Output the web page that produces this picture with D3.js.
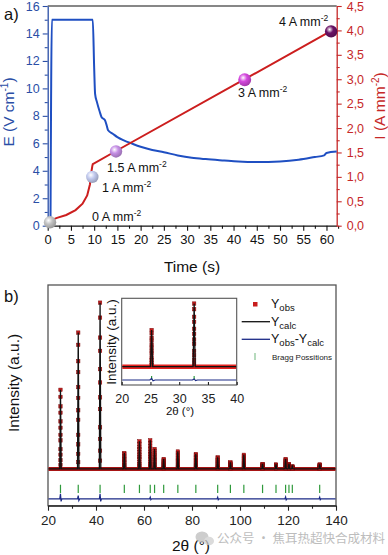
<!DOCTYPE html>
<html><head><meta charset="utf-8">
<script src="https://cdn.jsdelivr.net/npm/d3@7"></script>
<style>body{margin:0;background:#fff} svg{display:block;font-family:"Liberation Sans",Arial,sans-serif}</style>
</head><body><svg id="c" width="388" height="555"></svg>
<script>
// ---------- Panel a data ----------
const timeE = [0.6, 0.9, 9.7, 10.0, 10.2, 10.6, 11.2, 11.6, 12.3, 12.7, 13.0, 14, 15, 16.5, 18, 20, 22.5, 25, 28, 31, 34, 38, 41, 45, 50, 54, 57.5, 59.5, 60, 62.2];
const valE  = [0, 15, 15, 11.5, 9.6, 9.0, 8.3, 7.9, 7.7, 7.3, 6.95, 6.7, 6.45, 6.2, 6.0, 5.75, 5.52, 5.35, 5.12, 4.95, 4.85, 4.75, 4.68, 4.64, 4.68, 4.8, 5.0, 5.12, 5.3, 5.4];
const timeI = [0.9, 2, 4, 6, 7.5, 8.5, 9.1, 9.4, 9.6, 9.7, 14.7, 42.4, 61.0];
const valI  = [0.12, 0.16, 0.22, 0.32, 0.45, 0.62, 0.85, 1.1, 1.22, 1.26, 1.53, 3.0, 3.99];
const markerT = [0.5, 9.6, 14.7, 42.4, 61.0];
const markerI = [0.07, 1.0, 1.52, 2.99, 3.98];
const markerText = ["0 A mm", "1 A mm", "1.5 A mm", "3 A mm", "4 A mm"];
const markerColors = ["#c4c4c4", "#c3cbef", "#c690e6", "#d448de", "#6a1366"];
const eTicks = [0, 2, 4, 6, 8, 10, 12, 14, 16];
const iTicks = [0, 0.5, 1, 1.5, 2, 2.5, 3, 3.5, 4, 4.5];
const iTickLabels = ["0,0", "0,5", "1,0", "1,5", "2,0", "2,5", "3,0", "3,5", "4,0", "4,5"];
const timeTicks = [0, 5, 10, 15, 20, 25, 30, 35, 40, 45, 50, 55, 60];

// ---------- Panel b data ----------
const peakPos    = [25.2, 32.6, 41.7, 51.8, 58.1, 62.6, 64.4, 68.2, 74.1, 81.6, 90.7, 96.0, 101.6, 109.4, 115.0, 119.0, 120.4, 121.8, 133.2];
const peakHeight = [47.6, 82, 100, 9.6, 16.6, 17.2, 12, 6, 10.5, 9, 7, 4, 8.5, 3, 2.7, 6, 3, 1.5, 2.7];
const braggPos   = [25.2, 32.6, 41.7, 51.8, 58.1, 62.6, 64.4, 68.2, 74.1, 81.6, 90.7, 96.0, 101.6, 109.4, 115.0, 119.0, 120.4, 121.8, 133.2];
const obsLevels  = [1, 0.91, 0.79, 0.71, 0.6, 0.52, 0.43, 0.36, 0.25, 0.18, 0.11, 0.05];
const diffPos = [25.2, 32.6, 41.7, 62.6, 90.7, 119.0, 133.2];
const diffAmp = [3, 2, 3, 1, 1, 1.2, 1];
const twoThetaTicks = [20, 40, 60, 80, 100, 120, 140];
const insetTicks = [20, 25, 30, 35, 40];

const svg = d3.select("#c");
const defs = svg.append("defs");

// ================= PANEL A =================
const xT = d3.scaleLinear([0, 62.2], [47.7, 336.7]);
const yE = d3.scaleLinear([0, 16], [225.7, 6]);
const yI = d3.scaleLinear([0, 4.5], [225.7, 6]);
const blue = "#2a4ea6", red = "#c62828";

svg.append("line").attr("x1", xT(0)).attr("x2", xT(62.2)).attr("y1", 6).attr("y2", 6).attr("stroke", "#111").attr("stroke-width", 1.2);

function styleAxis(g, color, fs) {
  g.selectAll("path").attr("stroke", color).attr("stroke-width", 1.3);
  g.selectAll("line").attr("stroke", color).attr("stroke-width", 1.1);
  g.selectAll("text").attr("fill", color).attr("font-size", fs).attr("font-family", "Liberation Sans, Arial, sans-serif");
}
const gx = svg.append("g").attr("transform", `translate(0,${yE(0)})`)
  .call(d3.axisBottom(xT).tickValues(timeTicks).tickSize(5).tickSizeOuter(0).tickPadding(4));
styleAxis(gx, "#111", 13);
const gxm = svg.append("g").attr("transform", `translate(0,${yE(0)})`)
  .call(d3.axisBottom(xT).tickValues(timeTicks.map(d => d + 2.5)).tickSize(3).tickFormat(""));
gxm.select(".domain").remove(); styleAxis(gxm, "#111", 13);

const gl = svg.append("g").attr("transform", `translate(${xT(0)},0)`)
  .call(d3.axisLeft(yE).tickValues(eTicks).tickSize(5).tickSizeOuter(0).tickPadding(3));
styleAxis(gl, blue, 12.5);
const glm = svg.append("g").attr("transform", `translate(${xT(0)},0)`)
  .call(d3.axisLeft(yE).tickValues(eTicks.slice(0, -1).map(d => d + 1)).tickSize(3).tickFormat(""));
glm.select(".domain").remove(); styleAxis(glm, blue, 12);

const gr = svg.append("g").attr("transform", `translate(${xT(62.2)},0)`)
  .call(d3.axisRight(yI).tickValues(iTicks).tickSize(5).tickSizeOuter(0).tickPadding(5).tickFormat((d, i) => iTickLabels[i]));
styleAxis(gr, red, 12.5);
const grm = svg.append("g").attr("transform", `translate(${xT(62.2)},0)`)
  .call(d3.axisRight(yI).tickValues(iTicks.slice(0, -1).map(d => d + 0.25)).tickSize(3).tickFormat(""));
grm.select(".domain").remove(); styleAxis(grm, red, 12);

const lineE = d3.line().x((d, i) => xT(timeE[i])).y(d => yE(d)).curve(d3.curveMonotoneX);
svg.append("path").attr("d", lineE(valE)).attr("fill", "none").attr("stroke", "#1f4fc2").attr("stroke-width", 2);
const lineI = d3.line().x((d, i) => xT(timeI[i])).y(d => yI(d));
svg.append("path").attr("d", lineI(valI)).attr("fill", "none").attr("stroke", "#cc1e1e").attr("stroke-width", 2);

markerColors.forEach((c, i) => {
  const g = defs.append("radialGradient").attr("id", "mg" + i).attr("cx", "38%").attr("cy", "35%").attr("r", "65%");
  g.append("stop").attr("offset", "0%").attr("stop-color", "#ffffff");
  g.append("stop").attr("offset", "45%").attr("stop-color", c);
  g.append("stop").attr("offset", "100%").attr("stop-color", d3.color(c).darker(0.7));
});
svg.selectAll(".mk").data(markerT).join("circle")
  .attr("cx", d => xT(d)).attr("cy", (d, i) => yI(markerI[i])).attr("r", (d, i) => i === 3 ? 6.5 : 6.2)
  .attr("fill", (d, i) => `url(#mg${i})`);

const labelPos = [[92, 221], [102, 192], [107, 172], [238, 97], [279, 26]];
markerText.forEach((t, i) => {
  const tx = svg.append("text").attr("x", labelPos[i][0]).attr("y", labelPos[i][1]).attr("font-size", 12.5).attr("fill", "#111");
  tx.append("tspan").text(t);
  tx.append("tspan").attr("dy", -5).attr("font-size", 8.5).text("-2");
});

svg.append("text").attr("x", 4).attr("y", 20).attr("font-size", 16.5).attr("fill", "#111").text("a)");
const et = svg.append("text").attr("transform", "translate(14,112) rotate(-90)").attr("text-anchor", "middle").attr("font-size", 15.5).attr("fill", blue);
et.append("tspan").text("E (V cm"); et.append("tspan").attr("dy", -6).attr("font-size", 10).text("-1"); et.append("tspan").attr("dy", 6).text(")");
const it = svg.append("text").attr("transform", "translate(385,106) rotate(-90)").attr("text-anchor", "middle").attr("font-size", 15.5).attr("fill", red);
it.append("tspan").text("I (A mm"); it.append("tspan").attr("dy", -6).attr("font-size", 10).text("-2"); it.append("tspan").attr("dy", 6).text(")");
svg.append("text").attr("x", 192).attr("y", 272).attr("text-anchor", "middle").attr("font-size", 15.5).attr("fill", "#111").text("Time (s)");

// ================= PANEL B =================
const x2 = d3.scaleLinear([20, 140], [48, 336]);
const y2 = d3.scaleLinear([-22.1, 110.6], [505.7, 285]);
const frameC = "#555";
svg.append("rect").attr("x", 48).attr("y", 285).attr("width", 288).attr("height", 220.7).attr("fill", "none").attr("stroke", frameC).attr("stroke-width", 1.3);

const gb = svg.append("g").attr("transform", `translate(0,505.7)`)
  .call(d3.axisBottom(x2).tickValues(twoThetaTicks).tickSize(5).tickSizeOuter(0).tickPadding(5));
styleAxis(gb, "#222", 13.5);
const gbm = svg.append("g").attr("transform", `translate(0,505.7)`)
  .call(d3.axisBottom(x2).tickValues(twoThetaTicks.slice(0, -1).map(d => d + 10)).tickSize(3).tickFormat(""));
gbm.select(".domain").remove(); styleAxis(gbm, "#222", 13);

function calcPoints(lo, hi, delta) {
  const pts = [[lo, 0]];
  peakPos.forEach((p, i) => { pts.push([p - delta, 0], [p, peakHeight[i]], [p + delta, 0]); });
  pts.push([hi, 0]);
  return pts;
}
function diffPoints(lo, hi, base, scale) {
  const pts = [[lo, base]];
  diffPos.forEach((p, i) => { pts.push([p - 0.3, base], [p, base + diffAmp[i] * scale], [p + 0.25, base - diffAmp[i] * scale * 0.5], [p + 0.6, base]); });
  pts.push([hi, base]);
  return pts;
}

function drawXRD(g, xs, ys, lo, hi, opt) {
  g.append("line").attr("x1", xs(lo)).attr("x2", xs(hi)).attr("y1", ys(0)).attr("y2", ys(0))
    .attr("stroke", opt.bandColor).attr("stroke-width", opt.bandWidth);
  peakPos.forEach((p, i) => {
    if (p < lo || p > hi) return;
    obsLevels.forEach(l => {
      g.append("rect").attr("x", xs(p) - opt.sq / 2).attr("y", ys(peakHeight[i] * l) - opt.sq / 2)
        .attr("width", opt.sq).attr("height", opt.sq).attr("fill", "#c81d1d").attr("stroke", "#7d0a0a").attr("stroke-width", 0.5);
    });
  });
  const lc = d3.line().x(d => xs(d[0])).y(d => ys(d[1]));
  g.append("path").attr("d", lc(calcPoints(lo, hi, opt.delta).filter(d => d[0] >= lo && d[0] <= hi)))
    .attr("fill", "none").attr("stroke", "#111").attr("stroke-width", 1.3);
  braggPos.filter(p => p >= lo && p <= hi).forEach(p => {
    g.append("line").attr("x1", xs(p)).attr("x2", xs(p)).attr("y1", ys(opt.bragg[0])).attr("y2", ys(opt.bragg[1]))
      .attr("stroke", "#2f9a3c").attr("stroke-width", 1.2);
  });
  g.append("path").attr("d", lc(diffPoints(lo, hi, opt.diffBase, opt.diffScale).filter(d => d[0] >= lo && d[0] <= hi)))
    .attr("fill", "none").attr("stroke", "#1b2a86").attr("stroke-width", 1.2);
}
const gMain = svg.append("g");
drawXRD(gMain, x2, y2, 20.2, 139.8, { bandColor: "#a81515", bandWidth: 4, sq: 3.4, delta: 0.3, bragg: [-9.5, -14.5], diffBase: -18, diffScale: 1 });

svg.append("text").attr("x", 4).attr("y", 302).attr("font-size", 16.5).attr("fill", "#111").text("b)");
svg.append("text").attr("transform", "translate(19,383) rotate(-90)").attr("text-anchor", "middle").attr("font-size", 15.5).attr("fill", "#111").text("Intensity (a.u.)");
svg.append("text").attr("x", 191).attr("y", 551).attr("text-anchor", "middle").attr("font-size", 15.5).attr("fill", "#111").text("2θ (°)");

// ---------- inset ----------
const xi = d3.scaleLinear([20, 40], [121.7, 236.7]);
const yi = d3.scaleLinear([-23.8, 88.8], [385, 298.3]);
svg.append("rect").attr("x", 121.7).attr("y", 298.3).attr("width", 115).attr("height", 86.7).attr("fill", "#fff").attr("stroke", frameC).attr("stroke-width", 1.1);
const gIn = svg.append("g");
drawXRD(gIn, xi, yi, 20.1, 39.9, { bandColor: "#e2221f", bandWidth: 4.5, sq: 3.4, delta: 0.18, bragg: [-12, -17], diffBase: -17.3, diffScale: 0.7 });
const gia = svg.append("g").attr("transform", `translate(0,385)`)
  .call(d3.axisBottom(xi).tickValues(insetTicks).tickSize(-3).tickSizeOuter(0).tickPadding(5));
gia.select(".domain").remove(); styleAxis(gia, "#222", 12.5);
gia.selectAll("text").attr("dy", "1.05em");
svg.append("text").attr("transform", "translate(116,342) rotate(-90)").attr("text-anchor", "middle").attr("font-size", 13.5).attr("fill", "#111").text("Intensity (a.u.)");
svg.append("text").attr("x", 180).attr("y", 415).attr("text-anchor", "middle").attr("font-size", 11.5).attr("fill", "#111").text("2θ (°)");

// ---------- legend ----------
svg.append("rect").attr("x", 253).attr("y", 302).attr("width", 4.5).attr("height", 4.5).attr("fill", "#c81d1d");
function legText(y, parts) {
  const t = svg.append("text").attr("x", 271).attr("y", y).attr("font-size", 12.5).attr("fill", "#111");
  parts.forEach(p => t.append("tspan").attr("dy", p[1]).attr("font-size", p[2]).text(p[0]));
}
legText(308, [["Y", 0, 12.5], ["obs", 3, 9.5]]);
svg.append("line").attr("x1", 241.7).attr("x2", 270).attr("y1", 321.7).attr("y2", 321.7).attr("stroke", "#111").attr("stroke-width", 1.3);
legText(326, [["Y", 0, 12.5], ["calc", 3, 9.5]]);
svg.append("line").attr("x1", 241.7).attr("x2", 270).attr("y1", 339.3).attr("y2", 339.3).attr("stroke", "#1b2a86").attr("stroke-width", 1.3);
legText(343, [["Y", 0, 12.5], ["obs", 3, 9.5], ["-Y", -3, 12.5], ["calc", 3, 9.5]]);
svg.append("line").attr("x1", 255).attr("x2", 255).attr("y1", 353).attr("y2", 360).attr("stroke", "#8fc79a").attr("stroke-width", 1.3);
svg.append("text").attr("x", 272).attr("y", 360).attr("font-size", 8).attr("fill", "#222").text("Bragg Possitions");

// ---------- watermark ----------
const wm = svg.append("g").attr("opacity", 0.75);
wm.append("ellipse").attr("cx", 202).attr("cy", 537).attr("rx", 6.5).attr("ry", 5.5).attr("fill", "#bdbdbd");
wm.append("ellipse").attr("cx", 209).attr("cy", 541).attr("rx", 5).attr("ry", 4.3).attr("fill", "#cfcfcf");
svg.append("text").attr("x", 217).attr("y", 543).attr("font-size", 12.5).attr("fill", "#bdbdbd")
  .attr("font-family", "Noto Sans CJK SC, sans-serif").text("公众号 · 焦耳热超快合成材料");
</script></body></html>
